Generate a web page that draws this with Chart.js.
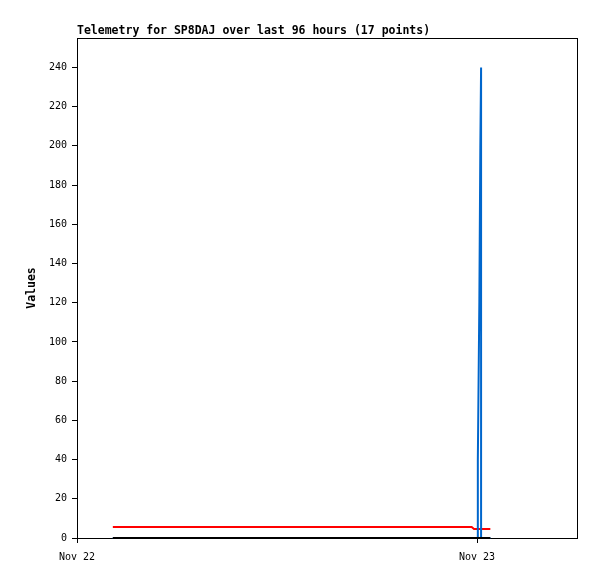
<!DOCTYPE html>
<html>
<head>
<meta charset="utf-8">
<script src="https://cdn.jsdelivr.net/npm/chart.js@4/dist/chart.umd.min.js"></script>
<style>
	body {margin: 0; background: #fff;}
	canvas {display: block;}
</style>
</head>
<body>
<canvas id="telemetry" width="597" height="579"></canvas>
<script>
'use strict';

// hours since Nov 22 00:00
const hours = [2.15, 23.68, 23.82, 23.95, 24.036, 24.05, 24.14, 24.2, 24.245, 24.245, 24.3, 24.4, 24.5, 24.58, 24.65, 24.72, 24.8];
const blueValues = [0, 0, 0, 0, 0, 40, 120, 200, 240, 0, 0, 0, 0, 0, 0, 0, 0];
const redValues = [5.6, 5.6, 4.6, 4.6, 4.6, 4.6, 4.6, 4.6, 4.6, 4.6, 4.6, 4.6, 4.6, 4.6, 4.6, 4.6, 4.6];
const blackValues = [0, 0, 0, 0, 0, 0, 0, 0, 0, 0, 0, 0, 0, 0, 0, 0, 0];
const xTickHours = [0, 24];
const xTickLabels = ['Nov 22', 'Nov 23'];
const yTicks = [0, 20, 40, 60, 80, 100, 120, 140, 160, 180, 200, 220, 240];
const titleText = 'Telemetry for SP8DAJ over last 96 hours (17 points)';

const toPoints = values => values.map((v, i) => ({x: hours[i], y: v}));

const frameAndTitle = {
	id: 'frameAndTitle',
	beforeDatasetsDraw(chart) {
		const {ctx, chartArea} = chart;
		ctx.save();
		ctx.strokeStyle = '#000';
		ctx.lineWidth = 1;
		ctx.strokeRect(chartArea.left + 0.5, chartArea.top + 0.5, chartArea.right - chartArea.left, chartArea.bottom - chartArea.top);
		ctx.restore();
	},
	afterDraw(chart) {
		const {ctx, chartArea} = chart;
		ctx.save();
		ctx.fillStyle = '#000';
		ctx.font = 'bold 11.5px "DejaVu Sans Mono"';
		ctx.textBaseline = 'middle';
		ctx.textAlign = 'left';
		ctx.fillText(titleText, chartArea.left, 31);
		ctx.restore();
	},
};

// lower order is drawn on top
const lineStyle = (color, order) => ({borderColor: color, borderWidth: 2, pointRadius: 0, tension: 0, clip: 3, order: order});

const ctx = document.getElementById('telemetry').getContext('2d');
const chart = new Chart(ctx, {
	type: 'line',
	data: {
		datasets: [
			{data: toPoints(blueValues), ...lineStyle('#0066cc', 1)},
			{data: toPoints(redValues), ...lineStyle('#ff0000', 2)},
			{data: toPoints(blackValues), ...lineStyle('#000000', 0)},
		],
	},
	options: {
		responsive: false,
		animation: false,
		layout: {padding: {top: 38, left: 0, right: 20, bottom: 0}},
		plugins: {
			legend: {display: false},
			tooltip: {enabled: false},
		},
		scales: {
			x: {
				type: 'linear',
				min: 0,
				max: 30,
				afterBuildTicks: scale => {scale.ticks = xTickHours.map(v => ({value: v}));},
				afterFit: scale => {scale.height = 41;},
				ticks: {
					color: '#000',
					font: {family: 'DejaVu Sans Mono', size: 10},
					maxRotation: 0,
					padding: 8,
					callback: value => xTickLabels[xTickHours.indexOf(value)],
				},
				grid: {drawOnChartArea: false, tickLength: 5, color: '#000'},
				border: {color: '#000'},
			},
			y: {
				min: 0,
				max: 255,
				afterBuildTicks: scale => {scale.ticks = yTicks.map(v => ({value: v}));},
				afterFit: scale => {scale.width = 77;},
				ticks: {
					color: '#000',
					font: {family: 'DejaVu Sans Mono', size: 10},
					padding: 5,
				},
				grid: {drawOnChartArea: false, tickLength: 5, color: '#000'},
				border: {color: '#000'},
				title: {
					display: true,
					text: 'Values',
					color: '#000',
					font: {family: 'DejaVu Sans Mono', size: 11.5, weight: 'bold'},
					padding: {top: 25, bottom: 0},
				},
			},
		},
	},
	plugins: [frameAndTitle],
});
</script>
</body>
</html>
